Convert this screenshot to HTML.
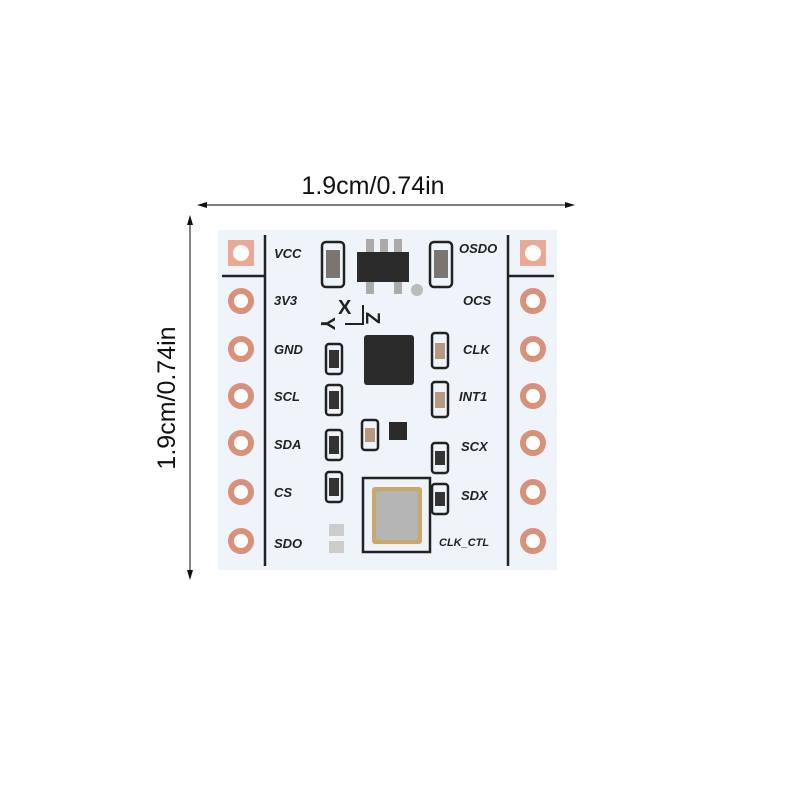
<!DOCTYPE html><html><head><style>body{margin:0;background:#fff}</style></head><body>
<svg width="800" height="800" viewBox="0 0 800 800" xmlns="http://www.w3.org/2000/svg" font-family="Liberation Sans, sans-serif">
<rect width="800" height="800" fill="#fff"/>
<line x1="200" y1="205" x2="572" y2="205" stroke="#333" stroke-width="1.2"/>
<polygon points="197,205 207,202 207,208" fill="#111"/>
<polygon points="575,205 565,202 565,208" fill="#111"/>
<text x="373" y="194" font-size="25" text-anchor="middle" fill="#111">1.9cm/0.74in</text>
<line x1="190" y1="218" x2="190" y2="578" stroke="#333" stroke-width="1.2"/>
<polygon points="190,215 187,225 193,225" fill="#111"/>
<polygon points="190,580 187,570 193,570" fill="#111"/>
<text transform="translate(175,398) rotate(-90)" font-size="25" text-anchor="middle" fill="#111">1.9cm/0.74in</text>
<rect x="218" y="230" width="339" height="340" fill="#eef4fa"/>
<line x1="265" y1="235" x2="265" y2="566" stroke="#222" stroke-width="2.5"/>
<line x1="508" y1="235" x2="508" y2="566" stroke="#222" stroke-width="2.5"/>
<line x1="222" y1="276" x2="265" y2="276" stroke="#222" stroke-width="2.5"/>
<line x1="508" y1="276" x2="554" y2="276" stroke="#222" stroke-width="2.5"/>
<g fill="#fff" stroke="#d8917a" stroke-width="6">
<rect x="228" y="240" width="26" height="26" fill="#e9a994" stroke="none"/>
<circle cx="241" cy="253" r="8" stroke="none"/>
<rect x="520" y="240" width="26" height="26" fill="#e9a994" stroke="none"/>
<circle cx="533" cy="253" r="8" stroke="none"/>
<circle cx="241" cy="301" r="10"/><circle cx="241" cy="349" r="10"/><circle cx="241" cy="396" r="10"/>
<circle cx="241" cy="443" r="10"/><circle cx="241" cy="492" r="10"/><circle cx="241" cy="541" r="10"/>
<circle cx="533" cy="301" r="10"/><circle cx="533" cy="349" r="10"/><circle cx="533" cy="396" r="10"/>
<circle cx="533" cy="443" r="10"/><circle cx="533" cy="492" r="10"/><circle cx="533" cy="541" r="10"/>
</g>
<g font-size="13" font-weight="bold" font-style="italic" fill="#222">
<text x="274" y="258">VCC</text><text x="274" y="305">3V3</text><text x="274" y="354">GND</text>
<text x="274" y="401">SCL</text><text x="274" y="449">SDA</text><text x="274" y="497">CS</text><text x="274" y="548">SDO</text>
<text x="459" y="253">OSDO</text><text x="463" y="305">OCS</text><text x="463" y="354">CLK</text>
<text x="459" y="401">INT1</text><text x="461" y="451">SCX</text><text x="461" y="500">SDX</text><text x="439" y="546" font-size="11">CLK_CTL</text>
</g>
<g font-size="20" font-weight="bold" fill="#222">
<text x="338" y="314">X</text>
<text transform="translate(321,317) rotate(90)">Y</text>
<text transform="translate(366,312) rotate(90)">Z</text>
</g>
<path d="M345 324 H363 V305" fill="none" stroke="#222" stroke-width="2"/>
<rect x="357" y="252" width="52" height="30" fill="#2a2a2a"/>
<rect x="366" y="239" width="8" height="13" fill="#aaa"/><rect x="380" y="239" width="8" height="13" fill="#aaa"/><rect x="394" y="239" width="8" height="13" fill="#aaa"/>
<rect x="366" y="282" width="8" height="12" fill="#aaa"/><rect x="394" y="282" width="8" height="12" fill="#aaa"/>
<circle cx="417" cy="290" r="6" fill="#bbb"/>
<g stroke="#222" stroke-width="2.5" fill="#eef4fa">
<rect x="322" y="242" width="22" height="45" rx="4"/><rect x="430" y="242" width="22" height="45" rx="4"/>
<rect x="326" y="344" width="16" height="30" rx="3"/><rect x="326" y="385" width="16" height="30" rx="3"/>
<rect x="326" y="430" width="16" height="30" rx="3"/><rect x="326" y="472" width="16" height="30" rx="3"/>
<rect x="432" y="333" width="16" height="35" rx="3"/><rect x="432" y="382" width="16" height="35" rx="3"/>
<rect x="362" y="420" width="16" height="30" rx="3"/><rect x="432" y="443" width="16" height="30" rx="3"/>
<rect x="432" y="484" width="16" height="30" rx="3"/>
<rect x="363" y="478" width="67" height="74" fill="none"/>
</g>
<g fill="#7a7570">
<rect x="326" y="250" width="14" height="28"/><rect x="434" y="250" width="14" height="28"/>
<rect x="329" y="350" width="10" height="18" fill="#333"/><rect x="329" y="391" width="10" height="18" fill="#333"/>
<rect x="329" y="436" width="10" height="18" fill="#333"/><rect x="329" y="478" width="10" height="18" fill="#333"/>
<rect x="435" y="343" width="10" height="16" fill="#b59a80"/><rect x="435" y="392" width="10" height="16" fill="#b59a80"/>
<rect x="365" y="428" width="10" height="14" fill="#b59a80"/>
<rect x="435" y="451" width="10" height="14" fill="#333"/><rect x="435" y="492" width="10" height="14" fill="#333"/>
</g>
<rect x="364" y="335" width="50" height="50" rx="3" fill="#2a2a2a"/>
<rect x="389" y="422" width="18" height="18" fill="#2a2a2a"/>
<rect x="372" y="487" width="50" height="57" rx="3" fill="#c9a86a"/>
<rect x="376" y="491" width="42" height="49" rx="3" fill="#b5b5b5"/>
<rect x="329" y="524" width="15" height="12" fill="#ccc"/><rect x="329" y="541" width="15" height="12" fill="#ccc"/>
</svg>
</body></html>
